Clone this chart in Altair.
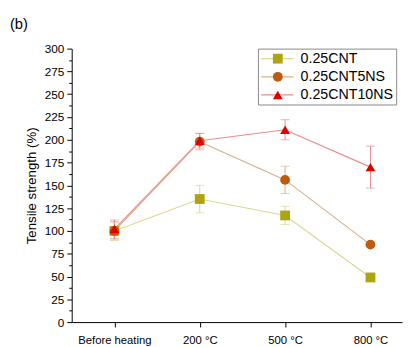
import altair as alt
import pandas as pd

categories = ["Before heating", "200 °C", "500 °C", "800 °C"]
series = ["0.25CNT", "0.25CNT5NS", "0.25CNT10NS"]
cnt = [100, 135, 117, 49]
cnt_err = [10, 15, 10, None]
cnt5 = [100, 198, 156, 85]
cnt5_err = [10, 9, 15, None]
cnt10 = [102, 199, 211, 170]
cnt10_err = [10, 8, 11, 23]

marker_colors = ["#aea412", "#c05a0c", "#dd0000"]
line_colors = ["#dcd890", "#deb088", "#ea8c8c"]
shapes = ["square", "circle", "triangle-up"]
series_m = [s + " " for s in series]

rows = []
for k, (s, vals, errs) in enumerate(zip(series, [cnt, cnt5, cnt10], [cnt_err, cnt5_err, cnt10_err])):
    for i, (v, e) in enumerate(zip(vals, errs)):
        rows.append({"series": s, "series_m": series_m[k], "xi": i, "val": v,
                     "lo": (v - e) if e else None, "hi": (v + e) if e else None})
df = pd.DataFrame(rows)

label_expr = "[" + ",".join("'%s'" % c for c in categories) + "][datum.value]"

xscale = alt.Scale(domain=[-0.5, 3.37], nice=False, zero=False)
yscale = alt.Scale(domain=[0, 300], nice=False)

xaxis = alt.Axis(values=[0, 1, 2, 3], labelExpr=label_expr, grid=False,
                 tickSize=5, labelPadding=8, labelFontSize=11.5, labelOverlap=False,
                 labelColor="black", domainColor="black", tickColor="black")
yaxis = alt.Axis(values=[i * 12.5 for i in range(25)],
                 labelExpr="datum.value % 25 === 0 ? datum.label : ''",
                 labelOverlap=False,
                 tickSize={"condition": {"test": "datum.value % 25 === 0", "value": 5}, "value": 3},
                 grid=False, labelFontSize=12, titleFontSize=13.5,
                 titleFontWeight="normal", titlePadding=6, labelPadding=3,
                 labelColor="black", domainColor="black", tickColor="black")
ytitle = "Tensile strength (%)"

x_enc = alt.X("xi:Q", scale=xscale, title=None, axis=xaxis)
y_enc = alt.Y("val:Q", scale=yscale, title=ytitle, axis=yaxis)
ylo = alt.Y("lo:Q", scale=yscale, title=ytitle, axis=yaxis)
yhi = alt.Y("hi:Q", scale=yscale, title=ytitle, axis=yaxis)

base = alt.Chart(df)

LEG_FS = 14.5
layers = []
for k, s in enumerate(series):
    d = base.transform_filter(alt.datum.series == s)
    err = d.transform_filter("isValid(datum.lo)")
    layers.append(d.mark_line(strokeWidth=1.2).encode(
        x=x_enc, y=y_enc,
        stroke=alt.Stroke("series:N", scale=alt.Scale(domain=series, range=line_colors),
                          legend=alt.Legend(title=None, orient="none", legendX=190, legendY=0,
                                            symbolType="M-1.4,0H5.2", symbolSize=100,
                                            symbolStrokeWidth=1.2,
                                            labelFontSize=LEG_FS, labelFont="Liberation Sans",
                                            labelColor="black",
                                            strokeColor="#888", padding=3, rowPadding=3.5,
                                            labelOffset=26))))
    layers.append(err.mark_rule(color=line_colors[k], strokeWidth=1).encode(x=x_enc, y=ylo, y2="hi:Q"))
    layers.append(err.mark_tick(color=line_colors[k], orient="horizontal", size=9, thickness=1).encode(x=x_enc, y=ylo))
    layers.append(err.mark_tick(color=line_colors[k], orient="horizontal", size=9, thickness=1).encode(x=x_enc, y=yhi))
for k, s in enumerate(series):
    d = base.transform_filter(alt.datum.series == s)
    layers.append(d.mark_point(filled=True, opacity=1, size=100).encode(
        x=x_enc, y=y_enc,
        fill=alt.Fill("series_m:N", scale=alt.Scale(domain=series_m, range=marker_colors),
                      legend=alt.Legend(title=None, orient="none", legendX=200, legendY=0,
                                        symbolSize=100, symbolStrokeWidth=0,
                                        labelExpr="' '", labelOpacity=0,
                                        labelFontSize=LEG_FS, labelFont="Liberation Sans",
                                        padding=3, rowPadding=3.5)),
        shape=alt.Shape("series_m:N", scale=alt.Scale(domain=series_m, range=shapes))))

title_df = pd.DataFrame({"t": ["(b)"]})
layers.append(alt.Chart(title_df).mark_text(align="left", baseline="alphabetic", fontSize=15,
                                             font="Liberation Sans", color="black")
              .encode(text="t:N", x=alt.value(-63), y=alt.value(-20)))

chart = alt.layer(*layers).properties(
    width=337, height=279,
    autosize="none",
    padding={"left": 65, "top": 38, "right": 2, "bottom": 24},
).configure(font="Liberation Sans").configure_view(stroke=None)

chart.save("out.html", embed_options={"renderer": "svg", "actions": False})
